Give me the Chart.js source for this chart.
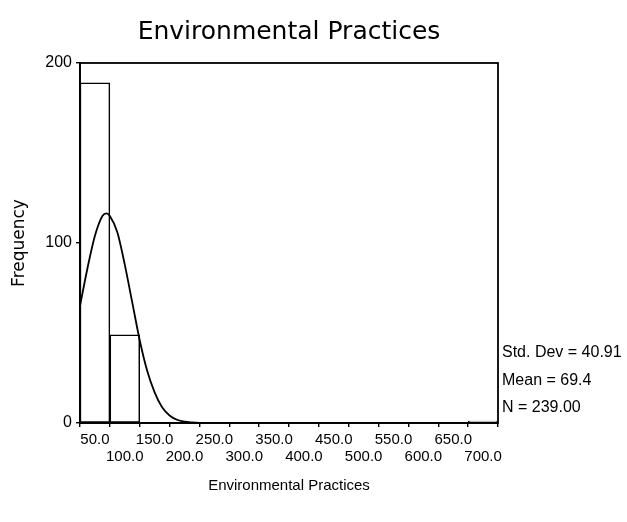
<!DOCTYPE html>
<html><head><meta charset="utf-8">
<script src="https://cdn.jsdelivr.net/npm/chart.js@4/dist/chart.umd.min.js"></script>
<style>html,body{margin:0;padding:0;background:#fff;overflow:hidden;}</style>
</head><body>
<canvas id="c" width="627" height="522"></canvas>
<script>
const chartTitle = 'Environmental Practices';
const xAxisTitle = 'Environmental Practices';
const yAxisTitle = 'Frequency';
const binCenters = [50, 100, 150, 200, 250, 300, 350, 400, 450, 500, 550, 600, 650, 700];
const binCounts  = [189, 49, 0, 0, 0, 0, 0, 0, 0, 0, 0, 0, 0, 1];
const curveX = [25, 37.5, 50, 62.5, 69.4, 75, 87.5, 100, 112.5, 125, 137.5, 150, 162.5, 175, 187.5, 200, 212.5, 225, 250, 725];
const curveY = [65, 86, 104, 115, 116.5, 115, 106, 88, 67, 46, 29, 17, 8.7, 4.2, 1.8, 0.7, 0.3, 0.1, 0, 0];
const xTickValues = [50, 100, 150, 200, 250, 300, 350, 400, 450, 500, 550, 600, 650, 700];
const yTickValues = [0, 100, 200];
const statsLines = ['Std. Dev = 40.91', 'Mean = 69.4', 'N = 239.00'];

const barData = [];
binCenters.forEach((c, i) => { if (binCounts[i] > 0) barData.push({x: c, y: binCounts[i]}); });
const lineData = curveX.map((x, i) => ({x: x, y: curveY[i]}));

const framePlugin = {
  id: 'frame',
  afterDatasetsDraw(chart) {
    const {ctx, chartArea: a} = chart;
    ctx.save();
    ctx.strokeStyle = '#000';
    ctx.lineWidth = 1.8;
    ctx.strokeRect(a.left, a.top, a.right - a.left, a.bottom - a.top);
    ctx.restore();
  }
};
const textPlugin = {
  id: 'texts',
  afterDraw(chart) {
    const {ctx, chartArea: a} = chart;
    ctx.save();
    ctx.fillStyle = '#000';
    ctx.textBaseline = 'middle';
    ctx.textAlign = 'center';
    ctx.font = '25px "DejaVu Sans", sans-serif';
    ctx.fillText(chartTitle, (a.left + a.right) / 2, 32);
    ctx.font = '16px "Liberation Sans", Arial, sans-serif';
    ctx.textAlign = 'left';
    const ys = [a.bottom - 70, a.bottom - 42, a.bottom - 15];
    statsLines.forEach((t, i) => ctx.fillText(t, a.right + 4, ys[i]));
    ctx.restore();
  }
};

new Chart(document.getElementById('c'), {
  type: 'bar',
  data: {
    datasets: [
      {
        type: 'line',
        data: lineData,
        borderColor: '#000',
        borderWidth: 1.8,
        pointRadius: 0,
        fill: false,
        cubicInterpolationMode: 'monotone',
        order: 0
      },
      {
        type: 'bar',
        data: barData,
        backgroundColor: '#fff',
        borderColor: '#000',
        borderWidth: 1.5,
        borderSkipped: false,
        barPercentage: 1,
        categoryPercentage: 1,
        order: 1
      }
    ]
  },
  options: {
    responsive: false,
    animation: false,
    devicePixelRatio: 1,
    layout: {padding: {left: 0, right: 129, top: 63, bottom: 0}},
    plugins: {
      legend: {display: false},
      tooltip: {enabled: false},
      title: {display: false}
    },
    scales: {
      x: {
        type: 'linear',
        min: 25,
        max: 725,
        offset: false,
        afterBuildTicks(scale) { scale.ticks = xTickValues.map(v => ({value: v})); },
        afterFit(scale) { scale.height = 99; },
        ticks: {
          color: '#000',
          maxRotation: 0,
          autoSkip: false,
          padding: 4,
          font: {family: '"Liberation Sans", Arial, sans-serif', size: 15, lineHeight: 1.133},
          callback(v, i) { const s = Number(v).toFixed(1); return i % 2 === 0 ? [s, ''] : ['', s]; }
        },
        grid: {display: true, drawOnChartArea: false, drawTicks: true, tickLength: 4, color: '#000', lineWidth: 1.4},
        border: {display: true, color: '#000', width: 1.8},
        title: {
          display: true,
          text: xAxisTitle,
          color: '#000',
          font: {family: '"Liberation Sans", Arial, sans-serif', size: 15, lineHeight: 1.2},
          padding: {top: 0, bottom: 27}
        }
      },
      y: {
        type: 'linear',
        min: 0,
        max: 200,
        afterBuildTicks(scale) { scale.ticks = yTickValues.map(v => ({value: v})); },
        afterFit(scale) { scale.width = 80; },
        ticks: {
          color: '#000',
          padding: 4,
          font: {family: '"Liberation Sans", Arial, sans-serif', size: 16},
          callback(v) { return String(v); }
        },
        grid: {display: true, drawOnChartArea: false, drawTicks: true, tickLength: 4, color: '#000', lineWidth: 1.4},
        border: {display: true, color: '#000', width: 1.8},
        title: {
          display: true,
          text: yAxisTitle,
          color: '#000',
          font: {family: '"DejaVu Sans", sans-serif', size: 17, lineHeight: 1.2},
          padding: {top: 9, bottom: 0}
        }
      }
    }
  },
  plugins: [framePlugin, textPlugin]
});
</script>
</body></html>
